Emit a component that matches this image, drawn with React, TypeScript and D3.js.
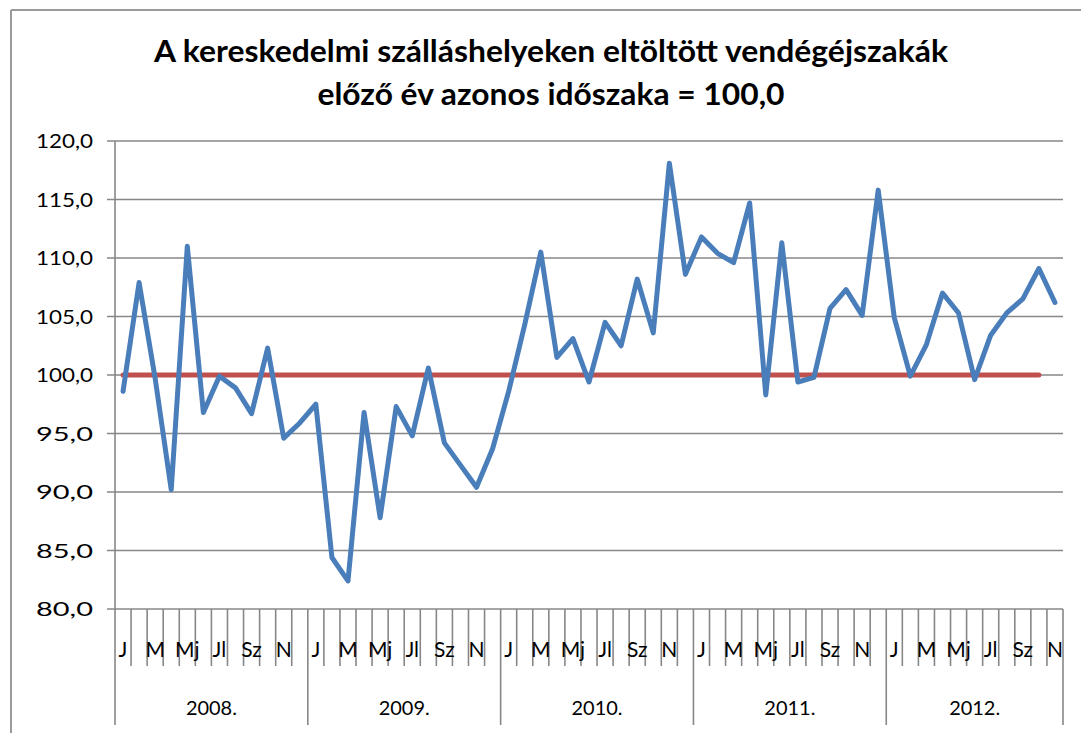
import React from "react";
import * as d3 from "d3";

const years = ["2008.", "2009.", "2010.", "2011.", "2012."];
const monthLabels = ["J", "", "M", "", "Mj", "", "Jl", "", "Sz", "", "N", ""];
const yTicks = [80, 85, 90, 95, 100, 105, 110, 115, 120];

const values2008 = [98.6, 107.9, 99.7, 90.2, 111.0, 96.8, 99.9, 98.9, 96.7, 102.3, 94.6, 95.9];
const values2009 = [97.5, 84.4, 82.4, 96.8, 87.8, 97.3, 94.8, 100.6, 94.2, 92.3, 90.4, 93.7];
const values2010 = [98.6, 104.3, 110.5, 101.5, 103.1, 99.4, 104.5, 102.5, 108.2, 103.6, 118.1, 108.6];
const values2011 = [111.8, 110.4, 109.6, 114.7, 98.3, 111.3, 99.4, 99.8, 105.7, 107.3, 105.1, 115.8];
const values2012 = [104.9, 99.9, 102.6, 107.0, 105.3, 99.6, 103.4, 105.3, 106.5, 109.1, 106.2];

const yearValues = [values2008, values2009, values2010, values2011, values2012];
const baselineValue = 100;
const baselineCount = 58;

const titleLine1 = "A kereskedelmi szálláshelyeken eltöltött vendégéjszakák";
const titleLine2 = "előző év azonos időszaka = 100,0";

type Pt = { key: string; year: string; month: number; value: number };

const points: Pt[] = [];
yearValues.forEach((arr, yi) => {
  arr.forEach((v, mi) => {
    points.push({ key: `${years[yi]}-${mi}`, year: years[yi], month: mi, value: v });
  });
});

export default function App() {
  const W = 1081;
  const H = 733;
  const left = 115;
  const right = 1063;
  const top = 141;
  const bottom = 609;
  const monthTickEnd = 666;
  const yearTickEnd = 725;

  const x = d3
    .scaleBand<string>()
    .domain(points.map((p) => p.key))
    .range([left, right])
    .paddingInner(0)
    .paddingOuter(0);
  const bw = x.bandwidth();
  const cx = (k: string) => (x(k) as number) + bw / 2;

  const y = d3.scaleLinear().domain([80, 120]).range([bottom, top]);

  const line = d3
    .line<Pt>()
    .x((d) => cx(d.key))
    .y((d) => y(d.value));

  const basePts = points.slice(0, baselineCount).map((p) => ({ ...p, value: baselineValue }));

  const fmt = (v: number) => v.toFixed(1).replace(".", ",");
  const gridColor = "#878787";
  const font = "Lato, 'Open Sans', sans-serif";

  const yearStarts: { year: string; start: number; end: number }[] = years.map((yr) => {
    const pts = points.filter((p) => p.year === yr);
    const s = x(pts[0].key) as number;
    const e = (x(pts[pts.length - 1].key) as number) + bw;
    return { year: yr, start: s, end: e };
  });

  return (
    <svg
      width={W}
      height={H}
      style={{ position: "absolute", left: 0, top: 0, background: "#fff" }}
      fontFamily={font}
    >
      <rect x={0} y={0} width={W} height={H} fill="#fff" />
      <line x1={11} y1={10} x2={W} y2={10} stroke="#9a9a9a" strokeWidth={2} />
      <line x1={11} y1={10} x2={11} y2={H} stroke="#9a9a9a" strokeWidth={2} />

      <text
        x={551}
        y={62}
        textAnchor="middle"
        fontSize={31}
        fontWeight="bold"
        fill="#000"
        textLength={794}
        lengthAdjust="spacingAndGlyphs"
      >
        {titleLine1}
      </text>
      <text
        x={551}
        y={105}
        textAnchor="middle"
        fontSize={31}
        fontWeight="bold"
        fill="#000"
        textLength={467}
        lengthAdjust="spacingAndGlyphs"
      >
        {titleLine2}
      </text>

      {yTicks.map((t) => (
        <g key={t}>
          <line x1={107} x2={right} y1={y(t)} y2={y(t)} stroke={gridColor} strokeWidth={1.6} />
          <text
            x={93}
            y={y(t)}
            dy="0.36em"
            textAnchor="end"
            fontSize={20}
            fill="#000"
            textLength={57}
            lengthAdjust="spacingAndGlyphs"
          >
            {fmt(t)}
          </text>
        </g>
      ))}

      <line x1={left} x2={left} y1={top} y2={yearTickEnd} stroke={gridColor} strokeWidth={1.6} />

      {points.map((p, i) =>
        i === 0 ? null : (
          <line
            key={"t" + p.key}
            x1={x(p.key) as number}
            x2={x(p.key) as number}
            y1={bottom}
            y2={p.month === 0 ? yearTickEnd : monthTickEnd}
            stroke={gridColor}
            strokeWidth={1.6}
          />
        )
      )}
      <line x1={right} x2={right} y1={bottom} y2={yearTickEnd} stroke={gridColor} strokeWidth={1.6} />

      {points.map((p) =>
        monthLabels[p.month] ? (
          <text
            key={"m" + p.key}
            x={cx(p.key)}
            y={649}
            dy="0.36em"
            textAnchor="middle"
            fontSize={21}
            fill="#000"
          >
            {monthLabels[p.month]}
          </text>
        ) : null
      )}

      {yearStarts.map((ys) => (
        <text
          key={ys.year}
          x={(ys.start + ys.end) / 2}
          y={708}
          dy="0.36em"
          textAnchor="middle"
          fontSize={20}
          fill="#000"
          textLength={51}
          lengthAdjust="spacingAndGlyphs"
        >
          {ys.year}
        </text>
      ))}

      <path d={line(basePts) || ""} fill="none" stroke="#c0504d" strokeWidth={5} strokeLinecap="round" />

      <path
        d={line(points) || ""}
        fill="none"
        stroke="#4a7ebb"
        strokeWidth={5}
        strokeLinejoin="round"
        strokeLinecap="round"
      />
    </svg>
  );
}
